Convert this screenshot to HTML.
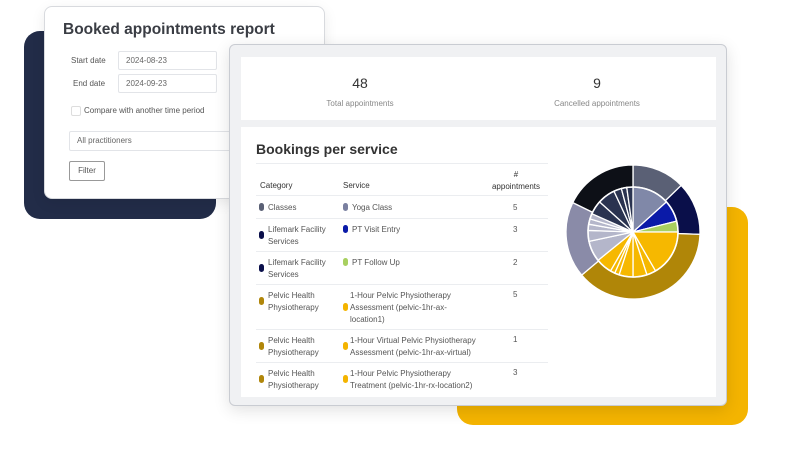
<!DOCTYPE html>
<html><head><style>
body{margin:0;width:800px;height:450px;background:#fff;position:relative;overflow:hidden;font-family:"Liberation Sans",sans-serif;color:#444}
.a{position:absolute}
.in{position:absolute;border:1px solid #e2e4e8;border-radius:2px;background:#fff;font-size:8px;color:#666;padding-left:7px;box-sizing:border-box;line-height:17px}
.t{font-size:8px;color:#555;position:absolute}
.dot{display:inline-block;width:5px;height:8px;border-radius:3px;vertical-align:-1px;margin-right:4px}
.hr{position:absolute;left:256px;width:292px;height:1px;background:#ebedf0}
</style></head><body>
<div class="a" style="left:24px;top:31px;width:192px;height:188px;background:#222c48;border-radius:16px"></div>
<div class="a" style="left:457px;top:207px;width:291px;height:218px;background:#f4b400;border-radius:16px"></div>
<div class="a" style="left:44px;top:6px;width:281px;height:193px;background:#fff;border:1px solid #d8dade;border-radius:8px;box-shadow:0 4px 14px rgba(0,0,0,.08);box-sizing:border-box"></div>
<div class="a" style="left:63px;top:21px;font-size:15.5px;color:#3a3d44;font-weight:600">Booked appointments report</div>
<div class="t" style="left:71px;top:56px">Start date</div>
<div class="in" style="left:118px;top:51px;width:99px;height:19px">2024-08-23</div>
<div class="t" style="left:73px;top:79px">End date</div>
<div class="in" style="left:118px;top:74px;width:99px;height:19px">2024-09-23</div>
<div class="a" style="left:71px;top:106px;width:8px;height:8px;border:1px solid #ddd;border-radius:2px"></div>
<div class="t" style="left:84px;top:106px">Compare with another time period</div>
<div class="in" style="left:69px;top:131px;width:165px;height:20px;line-height:18px">All practitioners</div>
<div class="a" style="left:69px;top:161px;width:36px;height:20px;border:1px solid #999;border-radius:2px;box-sizing:border-box;font-size:8px;text-align:center;line-height:18px;color:#555">Filter</div>

<div class="a" style="left:229px;top:44px;width:498px;height:362px;background:#f0f1f3;border:1px solid #c9ccd2;border-radius:6px;box-sizing:border-box;box-shadow:0 4px 16px rgba(0,0,0,.12)"></div>
<div class="a" style="left:241px;top:57px;width:475px;height:63px;background:#fff"></div>
<div class="a" style="left:241px;top:127px;width:475px;height:270px;background:#fff"></div>
<div class="a" style="left:320px;top:75px;width:80px;text-align:center;font-size:14px;color:#333">48</div>
<div class="a" style="left:300px;top:99px;width:120px;text-align:center;font-size:8px;color:#888">Total appointments</div>
<div class="a" style="left:557px;top:75px;width:80px;text-align:center;font-size:14px;color:#333">9</div>
<div class="a" style="left:537px;top:99px;width:120px;text-align:center;font-size:8px;color:#888">Cancelled appointments</div>
<div class="a" style="left:256px;top:141px;font-size:14px;font-weight:bold;color:#333">Bookings per service</div>
<div class="hr" style="top:163px"></div>
<div class="t" style="left:260px;top:181px;color:#333">Category</div>
<div class="t" style="left:343px;top:181px;color:#333">Service</div>
<div class="t" style="left:486px;top:169px;width:60px;text-align:center;color:#333;line-height:12px">#<br>appointments</div>
<div class="hr" style="top:195px"></div>
<div class="t" style="left:259px;top:203px"><span class="dot" style="background:#5a6075"></span>Classes</div>
<div class="t" style="left:343px;top:203px"><span class="dot" style="background:#7a80a0"></span>Yoga Class</div>
<div class="t" style="left:513px;top:203px">5</div>
<div class="hr" style="top:218px"></div>
<div class="t" style="left:259px;top:224px;line-height:12px"><span class="dot" style="background:#0a0f4a;position:absolute;left:0;top:7px"></span><span style="margin-left:9px;display:inline-block">Lifemark Facility<br>Services</span></div>
<div class="t" style="left:343px;top:225px"><span class="dot" style="background:#0a1aa8"></span>PT Visit Entry</div>
<div class="t" style="left:513px;top:225px">3</div>
<div class="hr" style="top:251px"></div>
<div class="t" style="left:259px;top:257px;line-height:12px"><span class="dot" style="background:#0a0f4a;position:absolute;left:0;top:7px"></span><span style="margin-left:9px;display:inline-block">Lifemark Facility<br>Services</span></div>
<div class="t" style="left:343px;top:258px"><span class="dot" style="background:#a8d060"></span>PT Follow Up</div>
<div class="t" style="left:513px;top:258px">2</div>
<div class="hr" style="top:284px"></div>
<div class="t" style="left:259px;top:290px;line-height:12px"><span class="dot" style="background:#b0860a;position:absolute;left:0;top:7px"></span><span style="margin-left:9px;display:inline-block">Pelvic Health<br>Physiotherapy</span></div>
<div class="t" style="left:343px;top:290px;line-height:12px"><span class="dot" style="background:#f4b400;position:absolute;left:0;top:13px"></span><span style="margin-left:7px;display:inline-block">1-Hour Pelvic Physiotherapy<br>Assessment (pelvic-1hr-ax-<br>location1)</span></div>
<div class="t" style="left:513px;top:290px">5</div>
<div class="hr" style="top:329px"></div>
<div class="t" style="left:259px;top:335px;line-height:12px"><span class="dot" style="background:#b0860a;position:absolute;left:0;top:7px"></span><span style="margin-left:9px;display:inline-block">Pelvic Health<br>Physiotherapy</span></div>
<div class="t" style="left:343px;top:335px;line-height:12px"><span class="dot" style="background:#f4b400;position:absolute;left:0;top:7px"></span><span style="margin-left:7px;display:inline-block">1-Hour Virtual Pelvic Physiotherapy<br>Assessment (pelvic-1hr-ax-virtual)</span></div>
<div class="t" style="left:513px;top:335px">1</div>
<div class="hr" style="top:362px"></div>
<div class="t" style="left:259px;top:368px;line-height:12px"><span class="dot" style="background:#b0860a;position:absolute;left:0;top:7px"></span><span style="margin-left:9px;display:inline-block">Pelvic Health<br>Physiotherapy</span></div>
<div class="t" style="left:343px;top:368px;line-height:12px"><span class="dot" style="background:#f4b400;position:absolute;left:0;top:7px"></span><span style="margin-left:7px;display:inline-block">1-Hour Pelvic Physiotherapy<br>Treatment (pelvic-1hr-rx-location2)</span></div>
<div class="t" style="left:513px;top:368px">3</div>

<svg class="a" style="left:0;top:0" width="800" height="450" id="pie"></svg>
<script>
var s=document.getElementById('pie'),cx=633,cy=232,h='';
function arc(r,a0,a1,c){var f=Math.PI/180,x0=cx+r*Math.sin(a0*f),y0=cy-r*Math.cos(a0*f),x1=cx+r*Math.sin(a1*f),y1=cy-r*Math.cos(a1*f);
h+='<path d="M'+cx+' '+cy+'L'+x0+' '+y0+'A'+r+' '+r+' 0 '+((a1-a0)>180?1:0)+' 1 '+x1+' '+y1+'Z" fill="'+c+'" stroke="#fff" stroke-width="1.3"/>';}
[[0,46,'#5a6075'],[46,92,'#0a0f4a'],[92,230,'#b08608'],[230,296,'#8a8ba8'],[296,360,'#0d1017']].forEach(function(d){arc(67,d[0],d[1],d[2])});
var inn=[[0,48,'#8088a8'],[48,76,'#0a1aa8'],[76,90,'#a8d060'],[90,150,'#f6b800'],[150,162,'#f6b800'],[162,180,'#f6b800'],[180,198,'#f6b800'],[198,204,'#f6b800'],[204,210,'#f6b800'],[210,231,'#f6b800'],
[231,258,'#b4b6ca'],[258,272,'#b4b6ca'],[272,280,'#b4b6ca'],[280,287,'#b4b6ca'],[287,294,'#b4b6ca'],[294,312,'#2a3350'],[312,335,'#2a3350'],[335,345,'#2a3350'],[345,352,'#2a3350'],[352,360,'#2a3350']];
inn.forEach(function(d){arc(45,d[0],d[1],d[2])});
h+='<circle cx="'+cx+'" cy="'+cy+'" r="45" fill="none" stroke="#fff" stroke-width="1.6"/>';
s.innerHTML=h;
</script>
</body></html>
